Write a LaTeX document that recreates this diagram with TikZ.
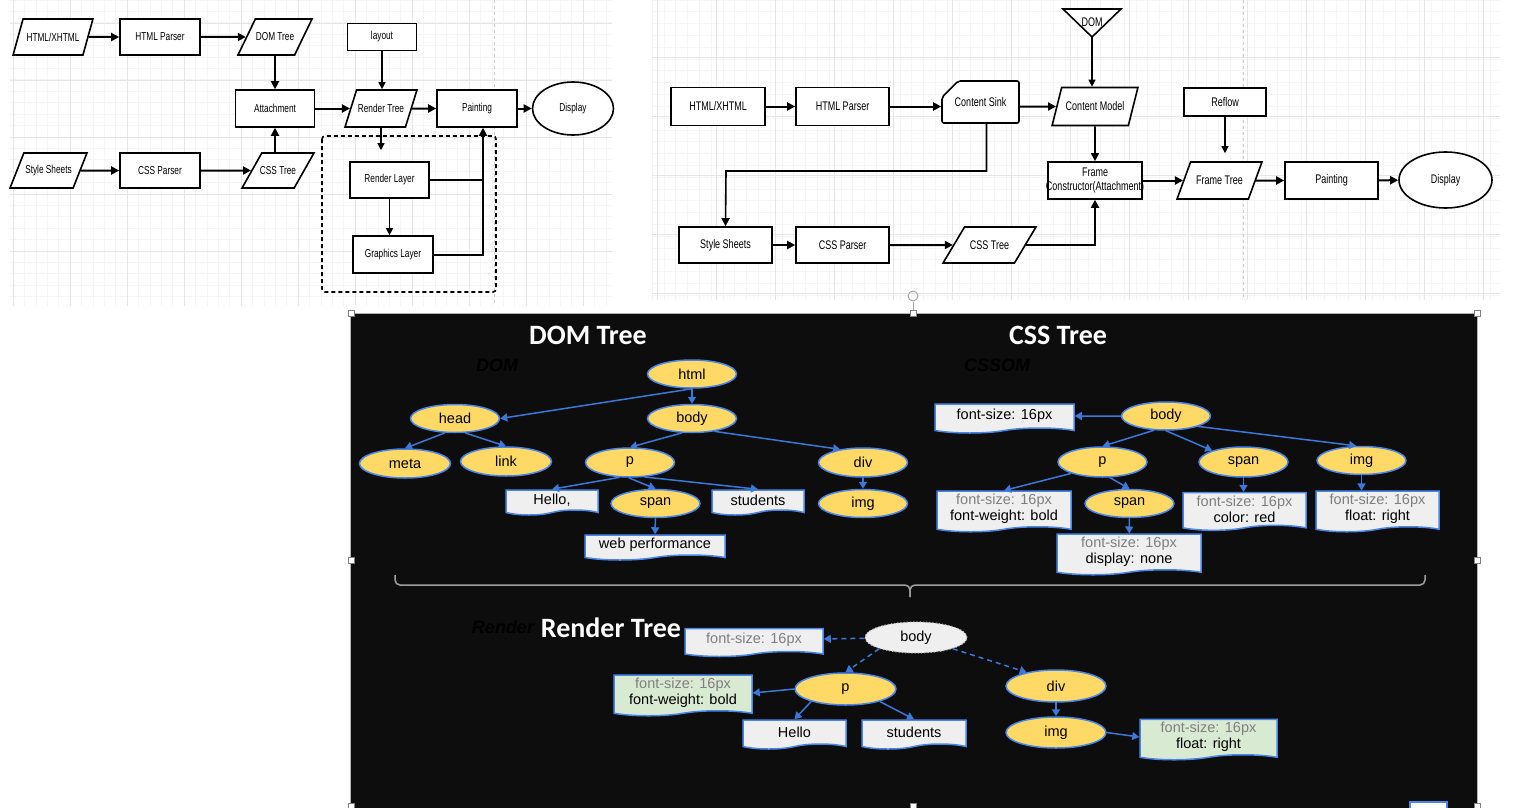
\documentclass[tikz,border=0pt]{standalone}
\usepackage{fontspec}
\setmainfont{Liberation Sans}
\newfontfamily\narrowfont[FakeStretch=0.72]{Liberation Sans}
\newfontfamily\titlefont{Carlito}
\usetikzlibrary{arrows.meta,shapes.geometric,shapes.misc,shapes.symbols,calc,positioning}

\definecolor{treeblue}{HTML}{4A86E8}
\definecolor{edgeblue}{HTML}{3C78D8}
\definecolor{treeyellow}{HTML}{FFD966}
\definecolor{docgray}{HTML}{EFEFEF}
\definecolor{docgreen}{HTML}{D9EAD3}
\definecolor{softtext}{HTML}{7F7F7F}
\definecolor{panelblack}{HTML}{0D0D0D}
\definecolor{gridminor}{HTML}{F5F5F5}
\definecolor{gridmajor}{HTML}{E6E6E6}

\begin{document}
\begin{tikzpicture}[x=1pt, y=-1pt,
    fc/.style={draw, line width=1.6pt, fill=white, minimum height=36pt, inner xsep=-15pt, inner ysep=1pt, align=center},
    fcbox/.style={fc, rectangle, minimum width=#1},
    fcdata/.style={fc, trapezium, trapezium left angle=70, trapezium right angle=110, trapezium stretches=true, minimum width=#1},
    fcsmall/.style={font=\narrowfont\fontsize{11.5}{12.5}\selectfont},
    fcbig/.style={font=\narrowfont\fontsize{12.5}{13.5}\selectfont},
    flow/.style={-{Triangle[length=8pt,width=8pt]}, line width=2pt},
    feed/.style={-{Triangle[length=7pt,width=7pt]}, line width=1.2pt},
    tnode/.style={ellipse, draw=treeblue, line width=1.5pt, fill=treeyellow, minimum width=89pt, minimum height=28pt, inner sep=0pt},
    tdoc/.style={tape, tape bend top=none, tape bend bottom=in and out, tape bend height=5pt, draw=treeblue, line width=1.5pt, fill=docgray, minimum width=#1, minimum height=25pt, inner xsep=2pt, inner ysep=3pt, align=center},
    tedge/.style={-{Triangle[length=7pt,width=8pt]}, draw=edgeblue, line width=1.5pt},
    tlink/.style={tedge, dash pattern=on 5pt off 4pt},
    ttitle/.style={text=white, font=\titlefont\bfseries\fontsize{28}{30}\selectfont},
    tghost/.style={text=black, font=\bfseries\itshape\fontsize{18}{20}\selectfont},
    font=\fontsize{14.5}{16}\selectfont]
  \useasboundingbox (0,0) rectangle (1523,808);

  % grids of the two editors
  \foreach \gy in {0,11.4,...,306} \draw[gridminor, line width=0.6pt] (10,\gy) -- (612,\gy);
  \foreach \gx in {13,24.4,...,612} \draw[gridminor, line width=0.6pt] (\gx,0) -- (\gx,306);
  \foreach \gy in {23,80,...,306} \draw[gridmajor, line width=0.8pt] (10,\gy) -- (612,\gy);
  \foreach \gx in {13,70,...,612} \draw[gridmajor, line width=0.8pt] (\gx,0) -- (\gx,306);
  \foreach \gy in {0,11.8,...,300} \draw[gridminor, line width=0.6pt] (652,\gy) -- (1500,\gy);
  \foreach \gx in {652,663.8,...,1500} \draw[gridminor, line width=0.6pt] (\gx,0) -- (\gx,300);
  \foreach \gy in {57,116,...,300} \draw[gridmajor, line width=0.8pt] (652,\gy) -- (1500,\gy);
  \foreach \gx in {657,716,...,1500} \draw[gridmajor, line width=0.8pt] (\gx,0) -- (\gx,300);
  \draw[gray!40, dashed, line width=0.8pt] (494,0) -- (494,306);
  \draw[gray!40, dashed, line width=0.8pt] (1243,0) -- (1243,300);

  % WebKit flow
  \begin{scope}[fcsmall]
    \node[fcdata=80pt] (wkhtml) at (53,37) {HTML/XHTML};
    \node[fcbox=80pt] (wkparser) at (160,37) {HTML Parser};
    \node[fcdata=74pt] (wkdom) at (275,37) {DOM Tree};
    \node[fcbox=69pt, minimum height=27pt] (wklayout) at (382,37) {layout};
    \node[fcbox=79pt, minimum height=37pt] (wkattach) at (275,108.5) {Attachment};
    \node[fcdata=72pt, minimum height=37pt] (wkrender) at (381,108.5) {Render Tree};
    \node[fcbox=80pt, minimum height=37pt] (wkpaint) at (477,108.5) {Painting};
    \node[fc, ellipse, minimum width=81pt, minimum height=53pt] (wkdisplay) at (573,108.5) {Display};
    \node[fcdata=77pt, minimum height=35pt] (wkstyle) at (48.5,170.5) {Style Sheets};
    \node[fcbox=80pt, minimum height=35pt] (wkcssparser) at (160,170.5) {CSS Parser};
    \node[fcdata=72pt, minimum height=35pt] (wkcss) at (278,170.5) {CSS Tree};
    \draw[line width=1.6pt, dash pattern=on 4pt off 3pt, rounded corners=3pt] (322,136) rectangle (496,292);
    \node[fcbox=79pt] (wkrlayer) at (389.5,180) {Render Layer};
    \node[fcbox=80pt, minimum height=37pt] (wkglayer) at (393,254.5) {Graphics Layer};
  \end{scope}
  \draw[flow] (wkhtml) -- (wkparser);
  \draw[flow] (wkparser) -- (wkdom);
  \draw[flow] (wkdom.south -| wkattach) -- (wkattach.north);
  \draw[flow] (wkcss.north -| wkattach) -- (wkattach.south);
  \draw[flow] (wkstyle) -- (wkcssparser);
  \draw[flow] (wkcssparser) -- (wkcss);
  \draw[flow] (wkattach) -- (wkrender);
  \draw[flow] (wkrender) -- (wkpaint);
  \draw[flow] (wkpaint) -- (wkdisplay);
  \draw[feed] (wklayout) -- (wklayout |- wkrender.north);
  \draw[feed, shorten >=11pt] (wkrender.south) -- (wkrender.south |- wkrlayer.north);
  \draw[feed] (wkrlayer) -- (wkrlayer |- wkglayer.north);
  \coordinate (wkpaintin) at ($(wkpaint.south)+(6,0)$);
  \draw[line width=2pt] (wkrlayer.east) -- (wkrlayer.east -| wkpaintin);
  \draw[flow] (wkglayer.east) -| (wkpaintin);

  % Gecko flow
  \begin{scope}[fcbig]
    \node[fcbox=94pt, minimum height=38pt] (gkhtml) at (718,106.5) {HTML/XHTML};
    \node[fcbox=93pt, minimum height=38pt] (gkparser) at (842.5,106.5) {HTML Parser};
    \node[fc, chamfered rectangle, chamfered rectangle corners=north west, chamfered rectangle xsep=10pt, chamfered rectangle ysep=12pt, rounded corners=2pt, minimum width=77pt, minimum height=42pt] (gksink) at (980.5,102) {Content Sink};
    \node[fcdata=86pt, minimum height=38pt] (gkmodel) at (1095,106.5) {Content Model};
    \draw[line width=1.6pt, fill=white] (1063,9) -- (1121,9) -- (1092,37) -- cycle;
    \node (gkdom) at (1092,22) {DOM};
    \coordinate (gkdomtip) at (1092,37);
    \node[fcbox=82pt, minimum height=28pt] (gkreflow) at (1225,102) {Reflow};
    \node[fcbox=94pt, minimum height=37pt] (gkframe) at (1095,180.5) {Frame\\Constructor(Attachment)};
    \node[fcdata=85pt, minimum height=37pt] (gkftree) at (1219.5,180.5) {Frame Tree};
    \node[fcbox=93pt, minimum height=37pt] (gkpaint) at (1331.5,180.5) {Painting};
    \node[fc, ellipse, minimum width=93pt, minimum height=56pt] (gkdisplay) at (1445.5,180) {Display};
    \node[fcbox=93pt] (gkstyle) at (725.5,245) {Style Sheets};
    \node[fcbox=93pt] (gkcssparser) at (842.5,245) {CSS Parser};
    \node[fcdata=93pt] (gkcss) at (989.5,245) {CSS Tree};
  \end{scope}
  \draw[flow] (gkhtml) -- (gkparser);
  \draw[flow] (gkparser) -- (gkparser -| gksink.west);
  \draw[flow] (gksink.east |- gkmodel) -- (gkmodel);
  \draw[feed] (gkdomtip) -- (gkdomtip |- gkmodel.north);
  \draw[flow, line width=1.6pt] (gkmodel) -- (gkframe);
  \coordinate (gksinkout) at ($(gksink.south)+(6,0)$);
  \coordinate (gkbend) at (726,171);
  \draw[flow, line width=1.6pt] (gksinkout) |- (gkbend) -- (gkstyle.north);
  \draw[flow] (gkstyle) -- (gkcssparser);
  \draw[flow] (gkcssparser) -- (gkcss);
  \draw[flow] (gkcss.east) -| (gkframe.south);
  \draw[flow] (gkframe) -- (gkftree);
  \draw[flow] (gkftree) -- (gkpaint);
  \draw[flow] (gkpaint) -- (gkdisplay);
  \draw[feed, shorten >=8pt] (gkreflow) -- (gkreflow |- gkftree.north);

  % pasted picture of the trees
  \fill[panelblack] (350,313) rectangle (1477,808);
  \draw[gray!60, line width=0.8pt] (350,313) rectangle (1477,808);
  \draw[gray!70, line width=0.8pt] (913,302) -- (913,313);
  \draw[gray!70, line width=1pt] (913,296) circle (5);
  \foreach \hx/\hy in {351/313, 913/313, 1477/313, 351/560, 1477/560, 351/806, 913/806, 1477/806}
    \draw[gray, fill=white, line width=0.6pt] ({\hx-3},{\hy-3}) rectangle ({\hx+3},{\hy+3});
  \draw[treeblue, fill=white, line width=1.5pt] (1410,802) rectangle (1447,812);

  % DOM tree
  \node[ttitle] (domtitle) at (588,335) {DOM Tree};
  \node[tghost] (domghost) at (497,365) {DOM};
  \node[tnode] (domhtml) at (692,374) {html};
  \node[tnode] (domhead) at (455,418.5) {head};
  \node[tnode] (dombody) at (692,418.5) {body};
  \node[tnode, minimum width=91pt, minimum height=29pt] (dommeta) at (405,463.5) {meta};
  \node[tnode, minimum width=91pt, minimum height=29pt] (domlink) at (506,461.5) {link};
  \node[tnode, minimum height=29pt] (domp) at (630,462.5) {p};
  \node[tnode, minimum height=29pt] (domdiv) at (863,462.5) {div};
  \node[tdoc=92pt] (domhello) at (552,500) {Hello,};
  \node[tnode] (domspan) at (655.5,503.5) {span};
  \node[tdoc=92pt] (domstudents) at (758,500) {students};
  \node[tnode] (domimg) at (863,503.5) {img};
  \node[tdoc=140pt] (domweb) at (655,545) {web performance};
  \draw[tedge] (domhtml.south) -- (domhead.east);
  \draw[tedge] (domhtml) -- (dombody);
  \draw[tedge] (domhead.-125) -- (dommeta.north);
  \draw[tedge] (domhead.-55) -- (domlink.north);
  \draw[tedge] (dombody.-125) -- (domp.north);
  \draw[tedge] (dombody.-30) -- (domdiv.150);
  \draw[tedge] (domp.-125) -- (domhello.north);
  \draw[tedge] (domp.-95) -- (domspan.north);
  \draw[tedge] (domp.-45) -- (domstudents.north);
  \draw[tedge] (domspan) -- (domweb);
  \draw[tedge] (domdiv) -- (domimg);

  % CSS tree
  \node[ttitle] (csstitle) at (1058,335) {CSS Tree};
  \node[tghost] (cssghost) at (997,365) {CSSOM};
  \node[tnode] (cssbody) at (1166,416) {body};
  \node[tdoc=139pt, minimum height=29pt] (cssfont) at (1004.5,416) {font-size: 16px};
  \node[tnode, minimum height=30pt] (cssp) at (1102.5,462) {p};
  \node[tnode, minimum height=30pt] (cssspan) at (1243.5,462) {span};
  \node[tnode] (cssimg) at (1361.5,460.5) {img};
  \node[tdoc=134pt] (csspdoc) at (1004,509) {{\color{softtext}font-size: 16px}\\font-weight: bold};
  \node[tnode] (cssinner) at (1129.5,503.5) {span};
  \node[tdoc=144pt] (cssinnerdoc) at (1129,552) {{\color{softtext}font-size: 16px}\\display: none};
  \node[tdoc=123pt] (cssspandoc) at (1244.5,509) {{\color{softtext}font-size: 16px}\\color: red};
  \node[tdoc=123pt] (cssimgdoc) at (1377.5,509) {{\color{softtext}font-size: 16px}\\float: right};
  \draw[tedge] (cssbody) -- (cssfont);
  \draw[tedge] (cssbody.-130) -- (cssp.north);
  \draw[tedge] (cssbody.south) -- (cssspan.160);
  \draw[tedge] (cssbody.-18) -- (cssimg.110);
  \draw[tedge] (cssp.-160) -- (csspdoc.north);
  \draw[tedge] (cssp.-65) -- (cssinner.north);
  \draw[tedge] (cssinner) -- (cssinnerdoc);
  \draw[tedge] (cssspan) -- (cssspan |- cssspandoc.north);
  \draw[tedge] (cssimg) -- (cssimg |- cssimgdoc.north);

  % brace joining both trees
  \coordinate (bracetip) at (910,597);
  \draw[gray!75, line width=1.5pt, rounded corners=5pt] (395,575) |- (910,585) -- (bracetip);
  \draw[gray!75, line width=1.5pt, rounded corners=5pt] (1425,575) |- (910,585) -- (bracetip);

  % Render tree
  \node[tghost] (rndghost) at (503,627) {Render};
  \node[ttitle] (rndtitle) at (611,628) {Render Tree};
  \node[ellipse, fill=docgray, draw=gray!55, dotted, line width=1.2pt, minimum width=102pt, minimum height=31pt, inner sep=0pt] (rndbody) at (916,637.5) {body};
  \node[tdoc=138pt, minimum height=28pt, text=softtext] (rndfont) at (754,640) {font-size: 16px};
  \node[tnode, minimum width=101pt, minimum height=32pt] (rndp) at (845.5,689) {p};
  \node[tnode, minimum width=100pt, minimum height=32pt] (rnddiv) at (1056,686) {div};
  \node[tdoc=138pt, fill=docgreen] (rndpdoc) at (683,693) {{\color{softtext}font-size: 16px}\\font-weight: bold};
  \node[tdoc=103pt, minimum height=29pt] (rndhello) at (794.5,732) {Hello};
  \node[tdoc=104pt, minimum height=29pt] (rndstudents) at (914,732) {students};
  \node[tnode, minimum width=100pt, minimum height=31pt] (rndimg) at (1056,732.5) {img};
  \node[tdoc=137pt, fill=docgreen] (rndimgdoc) at (1208.5,737) {{\color{softtext}font-size: 16px}\\float: right};
  \draw[tlink] (rndbody) -- (rndfont);
  \draw[tlink] (rndbody.-163) -- (rndp.north);
  \draw[tlink] (rndbody.-17) -- (rnddiv.155);
  \draw[tedge] (rndp.west) -- (rndpdoc.east);
  \draw[tedge] (rndp.-160) -- (rndhello.north);
  \draw[tedge] (rndp.-20) -- (rndstudents.north);
  \draw[tedge] (rnddiv) -- (rndimg);
  \draw[tedge] (rndimg.east) -- (rndimgdoc.west);
\end{tikzpicture}
\end{document}
